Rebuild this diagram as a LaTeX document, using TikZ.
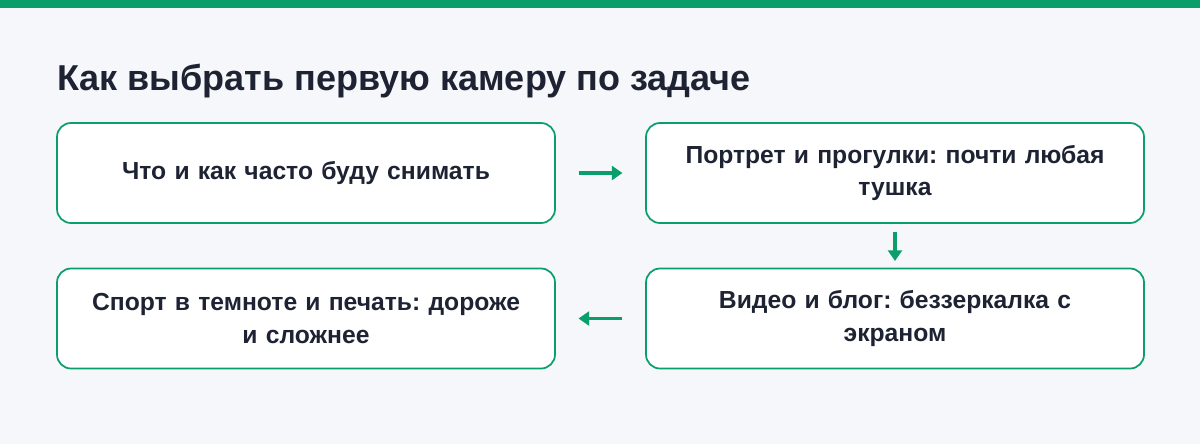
\documentclass[tikz,border=0pt]{standalone}
\usepackage{fontspec}
\setmainfont{Liberation Sans}
\usetikzlibrary{arrows.meta}
\definecolor{bg}{HTML}{F6F7FB}
\definecolor{gr}{HTML}{0A9E6A}
\definecolor{ink}{HTML}{1E2333}
\frenchspacing
\begin{document}
\begin{tikzpicture}[x=0.75pt,y=-0.75pt,
  box/.style={draw=gr,line width=1.3pt,fill=white,rounded corners=10.5pt,minimum width=373.5pt,minimum height=75pt,align=center,text width=350pt,font=\bfseries\fontsize{18.5}{24.5}\selectfont,text=ink,inner sep=0pt},
  arr/.style={draw=gr,line width=2.6pt,-{Triangle[length=8pt,width=10.5pt]}}]
\fill[bg] (0,0) rectangle (1200,444);
\fill[gr] (0,0) rectangle (1200,8);
\node[anchor=base west,font=\bfseries\fontsize{27}{30}\selectfont,text=ink,inner sep=0pt] (t) at (57,90) {Как выбрать первую камеру по задаче};
\node[box] (a) at (306,173) {Что и как часто буду снимать};
\node[box] (b) at (895,173) {Портрет и прогулки: почти любая\\тушка};
\node[box] (c) at (306,318.5) {Спорт в темноте и печать: дороже\\и сложнее};
\node[box] (d) at (895,318.5) {Видео и блог: беззеркалка с\\экраном};
\draw[arr,shorten <=17pt,shorten >=17pt] (a) -- (b);
\draw[arr,shorten <=6pt,shorten >=5pt] (b) -- (d);
\draw[arr,shorten <=17pt,shorten >=17pt] (d) -- (c);
\end{tikzpicture}
\end{document}
